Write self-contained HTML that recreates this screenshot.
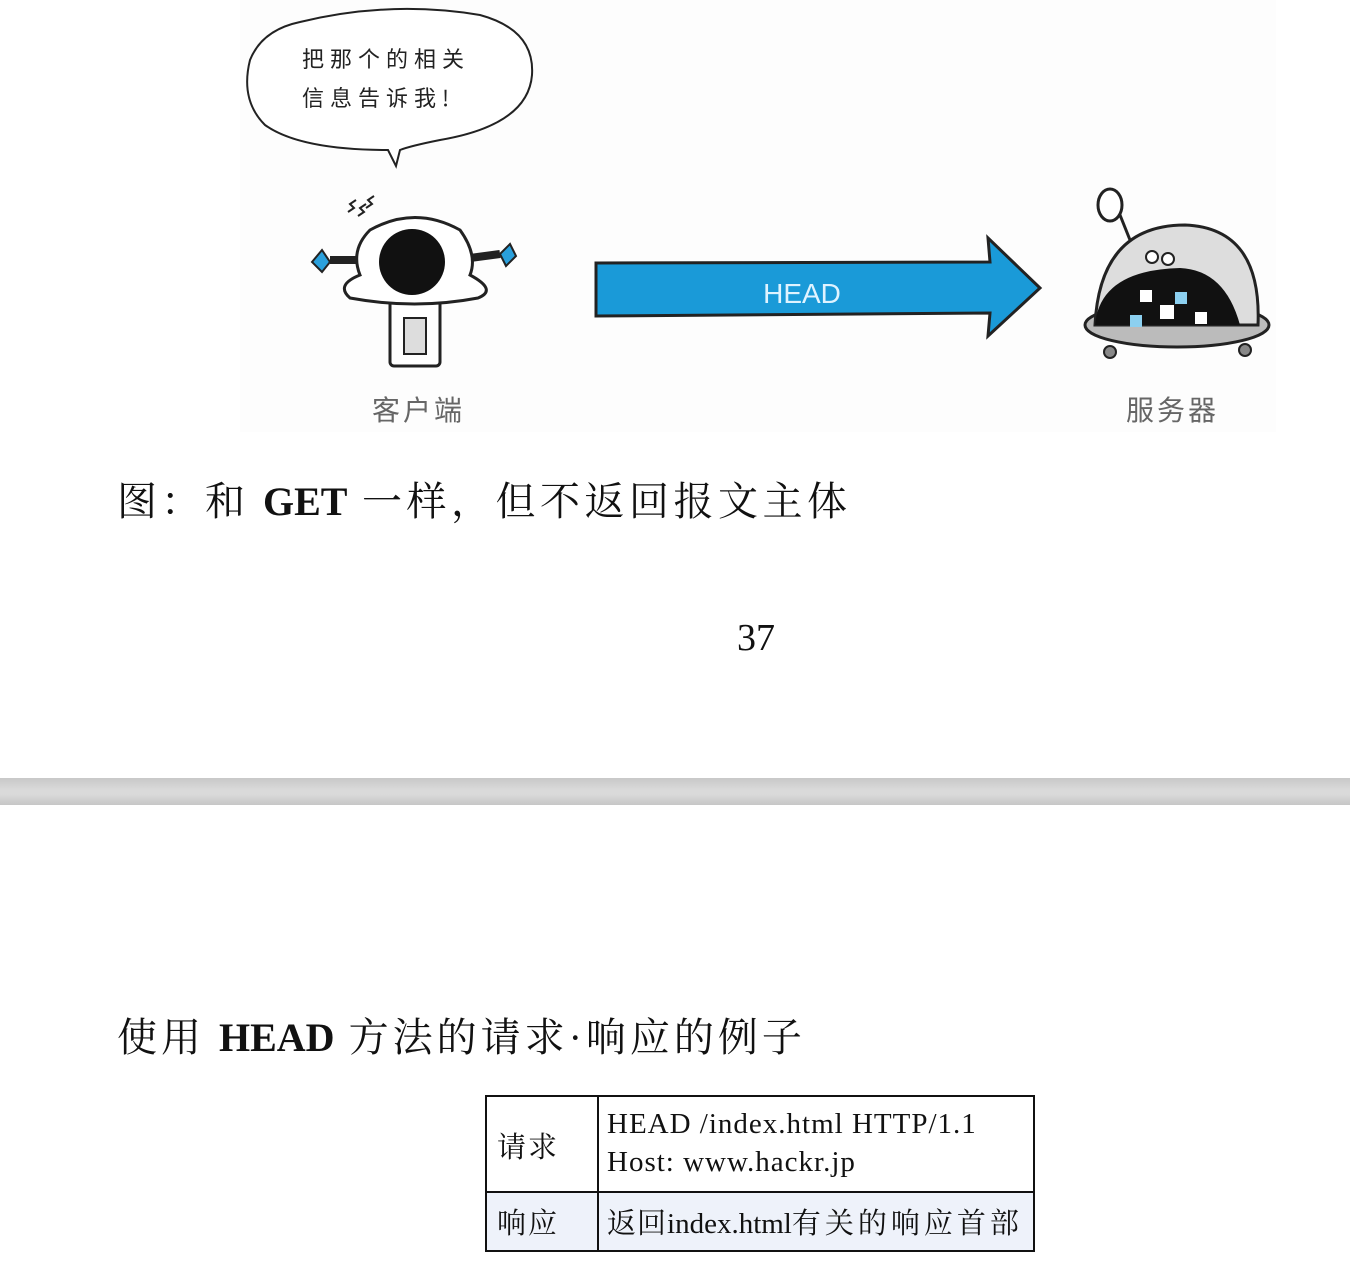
<!DOCTYPE html>
<html><head><meta charset="utf-8"><style>
body{margin:0;width:1350px;height:1288px;background:#fff;position:relative;overflow:hidden;font-family:"Liberation Serif","Noto Serif CJK SC",serif;}
.t{position:absolute;white-space:nowrap;color:#111;}
</style></head><body>
<svg style="position:absolute;left:0;top:0" width="1350" height="440">
<rect x="240" y="0" width="1036" height="432" fill="#fdfdfd"/>
<path d="M300,22 Q390,0 480,15 Q535,30 532,75 Q528,125 440,140 Q410,146 400,150 L396,166 L388,150 Q300,150 265,125 Q240,100 250,60 Q262,30 300,22Z" fill="#fff" stroke="#222" stroke-width="2"/>
<text x="302" y="67" font-family="'Noto Sans CJK SC',sans-serif" font-size="22" fill="#222" letter-spacing="6">把那个的相关</text>
<text x="302" y="106" font-family="'Noto Sans CJK SC',sans-serif" font-size="22" fill="#222" letter-spacing="6">信息告诉我!</text>
<rect x="390" y="292" width="50" height="74" rx="4" fill="#fff" stroke="#222" stroke-width="3"/>
<rect x="404" y="318" width="22" height="36" fill="#ddd" stroke="#222" stroke-width="2"/>
<line x1="330" y1="260" x2="360" y2="260" stroke="#222" stroke-width="8"/>
<line x1="470" y1="258" x2="500" y2="254" stroke="#222" stroke-width="8"/>
<polygon points="312,262 322,250 330,262 322,272" fill="#2aa0dc" stroke="#222" stroke-width="2"/>
<polygon points="500,254 510,244 516,256 506,266" fill="#2aa0dc" stroke="#222" stroke-width="2"/>
<path d="M370,230 Q415,205 460,230 Q478,255 470,275 Q498,290 478,298 Q415,310 350,298 Q335,285 360,275 Q350,250 370,230Z" fill="#fff" stroke="#222" stroke-width="3"/>
<circle cx="412" cy="262" r="33" fill="#111"/>
<path d="M348,212 l6,-4 l-4,-4 l6,-4 M358,216 l6,-4 l-4,-4 l6,-4 M366,208 l6,-4 l-4,-4 l6,-4" stroke="#222" stroke-width="2" fill="none"/>
<path d="M596,263 L990,262 L988,238 L1040,288 L988,336 L990,313 L596,316Z" fill="#1a9ad8" stroke="#222" stroke-width="3"/>
<text x="802" y="303" text-anchor="middle" font-family="'Liberation Sans',sans-serif" font-size="28" fill="#dff3ff">HEAD</text>
<ellipse cx="1177" cy="325" rx="92" ry="22" fill="#bbb" stroke="#222" stroke-width="3"/>
<path d="M1095,325 Q1100,225 1185,225 Q1262,228 1258,325Z" fill="#ddd" stroke="#222" stroke-width="3"/>
<path d="M1095,325 Q1100,270 1180,268 Q1225,270 1240,325Z" fill="#111"/>
<rect x="1140" y="290" width="12" height="12" fill="#fff"/><rect x="1175" y="292" width="12" height="12" fill="#8cd0f0"/>
<rect x="1160" y="305" width="14" height="14" fill="#fff"/><rect x="1130" y="315" width="12" height="12" fill="#8cd0f0"/>
<rect x="1195" y="312" width="12" height="12" fill="#fff"/>
<circle cx="1152" cy="257" r="6" fill="#fff" stroke="#222" stroke-width="2"/><circle cx="1168" cy="259" r="6" fill="#fff" stroke="#222" stroke-width="2"/>
<line x1="1118" y1="210" x2="1130" y2="240" stroke="#222" stroke-width="3"/>
<ellipse cx="1110" cy="205" rx="12" ry="16" fill="#fff" stroke="#222" stroke-width="3"/>
<circle cx="1110" cy="352" r="6" fill="#888" stroke="#222" stroke-width="2"/><circle cx="1245" cy="350" r="6" fill="#888" stroke="#222" stroke-width="2"/>
<text x="372" y="420" font-family="'Noto Sans CJK SC',sans-serif" font-size="28" fill="#666" letter-spacing="3">客户端</text>
<text x="1126" y="420" font-family="'Noto Sans CJK SC',sans-serif" font-size="28" fill="#666" letter-spacing="3">服务器</text>
</svg>
<div class="t" style="left:117px;top:470px;font-size:40px;"><span style="letter-spacing:4px">图：和 </span><b>GET</b><span style="letter-spacing:4.5px"> 一样，但不返回报文主体</span></div>
<div class="t" style="left:737px;top:616px;font-size:38px;">37</div>
<div style="position:absolute;left:0;top:778px;width:1350px;height:27px;background:linear-gradient(#c8c8c8,#dadada 45%,#dadada 60%,#c6c6c6);"></div>
<div class="t" style="left:117px;top:1006px;font-size:40px;"><span style="letter-spacing:4px">使用 </span><b>HEAD</b><span style="letter-spacing:4px"> 方法的请求·响应的例子</span></div>
<div style="position:absolute;left:485px;top:1095px;width:546px;height:153px;border:2px solid #111;">
 <div style="position:absolute;left:110px;top:0;width:2px;height:153px;background:#111"></div>
 <div style="position:absolute;left:0;top:94px;width:546px;height:2px;background:#111"></div>
 <div style="position:absolute;left:0;top:96px;width:110px;height:57px;background:#eef2fa"></div>
 <div style="position:absolute;left:112px;top:96px;width:434px;height:57px;background:#eef2fa"></div>
 <div class="t" style="left:10px;top:28px;font-size:29px;letter-spacing:2px">请求</div>
 <div class="t" style="left:120px;top:8px;font-size:29px;line-height:38px;letter-spacing:1px">HEAD /index.html HTTP/1.1<br>Host: www.hackr.jp</div>
 <div class="t" style="left:10px;top:104px;font-size:29px;letter-spacing:2px">响应</div>
 <div class="t" style="left:120px;top:104px;font-size:29px;"><span style="letter-spacing:1px">返回</span>index.html<span style="letter-spacing:4px">有关的响应首部</span></div>
</div>
</body></html>
